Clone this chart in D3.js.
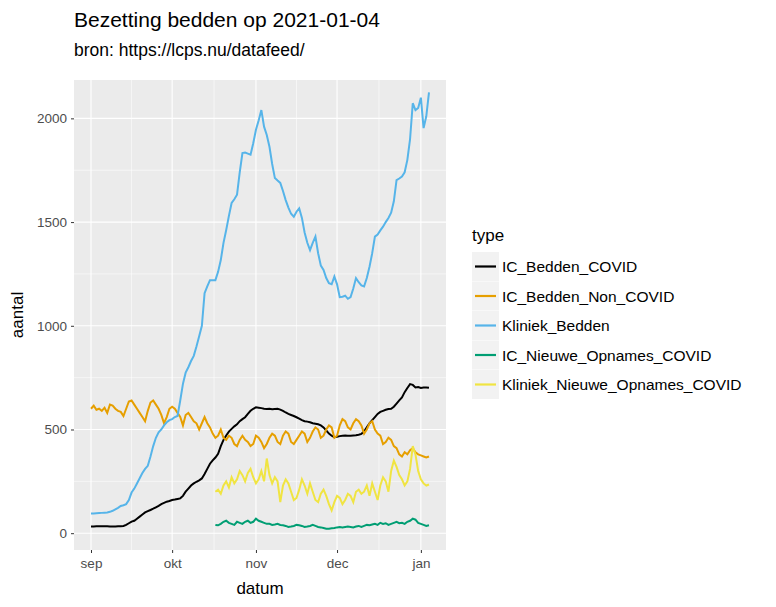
<html>
<meta charset="utf-8" />
<script src="https://d3js.org/d3.v7.min.js"></script>
<style>
  body { margin: 0; background: #fff; }
  text { font-family: "Liberation Sans", Arial, sans-serif; }
</style>
<body>
<svg id="chart" width="776" height="607"></svg>
<script>
  const startDate = new Date(2020, 8, 1);
  const opnameStart = 46; // 17 okt

  const klinBedden = [95,95,96,97,98,99,100,103,108,115,122,
    131,135,140,160,196,215,240,265,290,310,
    325,370,420,460,486,500,520,535,545,550,
    560,565,640,720,774,800,830,855,900,950,
    1000,1157,1190,1220,1220,1220,1260,1317,1400,1462,
    1530,1592,1610,1632,1740,1833,1835,1830,1825,1880,
    1945,1990,2040,1960,1920,1863,1780,1712,1700,1689,
    1650,1606,1570,1540,1526,1550,1566,1520,1450,1400,
    1365,1400,1430,1350,1290,1269,1230,1205,1200,1237,
    1200,1138,1140,1145,1130,1138,1180,1230,1210,1195,
    1190,1230,1285,1350,1430,1440,1460,1478,1500,1520,
    1545,1600,1702,1710,1720,1740,1800,1900,2073,2040,
    2050,2100,1953,2010,2125];
  const icCovid = [32,32,33,33,34,34,33,32,32,32,33,
    33,35,40,48,56,60,70,80,90,100,
    106,112,118,125,132,140,146,152,155,160,
    162,165,168,180,200,215,230,240,248,255,
    264,285,310,335,351,365,383,420,450,471,
    490,503,515,525,540,550,559,575,590,600,
    607,605,603,600,599,600,598,599,600,596,
    590,582,575,570,565,559,552,545,540,538,
    535,530,528,525,520,510,495,480,470,463,
    465,468,470,471,470,470,471,472,475,479,
    490,511,530,545,560,575,585,590,595,599,
    600,610,625,640,655,680,700,719,715,703,
    705,700,702,703,701];
  const icNonCovid = [600,615,595,600,590,605,580,620,615,600,590,
    585,565,600,635,640,620,600,580,560,540,
    590,630,640,620,600,570,530,560,600,610,
    600,580,560,520,570,580,560,540,530,500,
    530,560,530,510,480,460,470,500,460,450,
    470,460,430,420,450,470,450,440,420,430,
    470,460,440,410,430,460,480,470,440,430,
    470,490,480,440,430,450,470,490,480,440,
    460,490,510,500,460,470,500,520,510,460,
    470,520,550,540,510,500,530,550,540,520,
    480,500,530,540,500,480,470,430,440,460,
    450,420,410,380,370,390,380,400,410,390,
    380,375,370,365,370];
  const klinOpnames = [200,210,190,230,250,220,270,240,260,300,
    280,250,290,310,270,240,260,300,250,360,
    280,240,270,250,150,230,260,240,200,160,
    170,210,260,230,190,240,200,160,150,190,
    210,180,140,110,150,180,170,140,160,190,
    180,150,200,210,190,200,230,180,240,200,
    160,230,270,250,200,300,350,320,280,260,
    230,250,310,420,380,300,260,240,230,235];
  const icOpnames = [40,38,45,55,60,50,45,40,55,50,
    45,55,60,50,55,70,60,55,50,45,
    45,40,42,45,40,38,35,30,32,35,
    40,38,35,30,32,35,40,35,30,28,
    25,22,22,24,25,28,30,28,30,32,
    30,28,32,35,30,35,40,38,42,45,
    40,50,45,48,40,45,50,55,48,50,
    45,55,60,70,65,50,45,40,35,38];

  const types = ["IC_Bedden_COVID","IC_Bedden_Non_COVID","Kliniek_Bedden","IC_Nieuwe_Opnames_COVID","Kliniek_Nieuwe_Opnames_COVID"];
  const colors = ["#000000","#E69F00","#56B4E9","#009E73","#F0E442"];
  const yTicks = [0, 500, 1000, 1500, 2000];
  const xTickDates = [new Date(2020,8,1), new Date(2020,9,1), new Date(2020,10,1), new Date(2020,11,1), new Date(2021,0,1)];
  const xTickLabels = ["sep","okt","nov","dec","jan"];

  const day = i => d3.timeDay.offset(startDate, i);
  const toPts = (arr, off) => arr.map((v, i) => ({ date: day(i + off), v }));
  const series = [
    toPts(icCovid, 0), toPts(icNonCovid, 0), toPts(klinBedden, 0),
    toPts(icOpnames, opnameStart), toPts(klinOpnames, opnameStart)
  ];

  const L = 74, R = 446, T = 80, B = 550;
  const x = d3.scaleTime()
    .domain([d3.timeHour.offset(startDate, -151), d3.timeHour.offset(startDate, 131.3 * 24)])
    .range([L, R]);
  const y = d3.scaleLinear().domain([-81, 2185]).range([B, T]);

  const svg = d3.select("#chart");
  svg.append("rect").attr("x", L).attr("y", T).attr("width", R - L).attr("height", B - T).attr("fill", "#EBEBEB");

  // minor grid
  const yMinor = d3.range(250, 2185, 500);
  const xMinor = xTickDates.slice(1).map((d, i) => new Date((+d + +xTickDates[i]) / 2));
  svg.append("g").selectAll("line").data(yMinor).join("line")
    .attr("x1", L).attr("x2", R).attr("y1", d => y(d)).attr("y2", d => y(d))
    .attr("stroke", "#fff").attr("stroke-width", 0.55);
  svg.append("g").selectAll("line").data(xMinor).join("line")
    .attr("y1", T).attr("y2", B).attr("x1", d => x(d)).attr("x2", d => x(d))
    .attr("stroke", "#fff").attr("stroke-width", 0.55);
  // major grid
  svg.append("g").selectAll("line").data(yTicks).join("line")
    .attr("x1", L).attr("x2", R).attr("y1", d => y(d)).attr("y2", d => y(d))
    .attr("stroke", "#fff").attr("stroke-width", 1.1);
  svg.append("g").selectAll("line").data(xTickDates).join("line")
    .attr("y1", T).attr("y2", B).attr("x1", d => x(d)).attr("x2", d => x(d))
    .attr("stroke", "#fff").attr("stroke-width", 1.1);

  const line = d3.line().x(d => x(d.date)).y(d => y(d.v));
  svg.append("g").selectAll("path").data(series).join("path")
    .attr("d", line).attr("fill", "none")
    .attr("stroke", (d, i) => colors[i]).attr("stroke-width", 2);

  // axes
  const yAxis = svg.append("g").attr("transform", `translate(${L},0)`)
    .call(d3.axisLeft(y).tickValues(yTicks).tickFormat(d3.format("d")).tickSize(3).tickPadding(4));
  const xAxis = svg.append("g").attr("transform", `translate(0,${B})`)
    .call(d3.axisBottom(x).tickValues(xTickDates).tickFormat((d, i) => xTickLabels[i]).tickSize(3).tickPadding(5));
  [xAxis, yAxis].forEach(a => {
    a.select(".domain").remove();
    a.selectAll("line").attr("stroke", "#333");
    a.selectAll("text").attr("fill", "#4D4D4D").style("font-size", "13.5px").style("font-family", "Liberation Sans, Arial");
  });

  svg.append("text").attr("x", (L + R) / 2).attr("y", 594).attr("text-anchor", "middle")
    .style("font-size", "17px").text("datum");
  svg.append("text").attr("transform", `translate(23,${(T + B) / 2}) rotate(-90)`).attr("text-anchor", "middle")
    .style("font-size", "17px").text("aantal");
  svg.append("text").attr("x", L).attr("y", 27).style("font-size", "21px").text("Bezetting bedden op 2021-01-04");
  svg.append("text").attr("x", L).attr("y", 56).style("font-size", "17.5px").text("bron: https://lcps.nu/datafeed/");

  // legend
  const lg = svg.append("g").attr("transform", "translate(472,0)");
  lg.append("text").attr("x", 0).attr("y", 241).style("font-size", "17px").text("type");
  const items = lg.selectAll("g").data(types).join("g")
    .attr("transform", (d, i) => `translate(0,${252 + i * 29.5})`);
  items.append("rect").attr("width", 27).attr("height", 29).attr("fill", "#F2F2F2");
  items.append("line").attr("x1", 3).attr("x2", 24).attr("y1", 14.5).attr("y2", 14.5)
    .attr("stroke", (d, i) => colors[i]).attr("stroke-width", 2.2);
  items.append("text").attr("x", 30).attr("y", 20).style("font-size", "15.5px").text(d => d);
</script>
</body>
</html>
